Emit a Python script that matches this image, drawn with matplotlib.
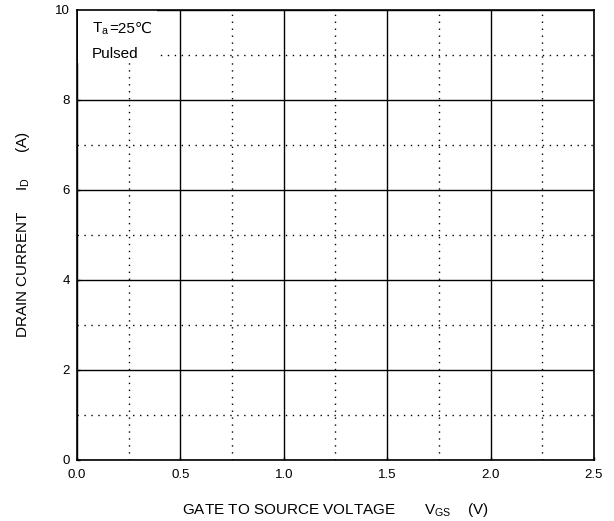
import matplotlib
matplotlib.use("Agg")
import matplotlib.pyplot as plt
import matplotlib.patches as patches

plt.rcParams['font.family'] = ['Liberation Sans', 'DejaVu Sans']
plt.rcParams['mathtext.fontset'] = 'custom'
plt.rcParams['mathtext.rm'] = 'Liberation Sans'

# axis setup (chart is an empty grid)
x_ticks = [0.0, 0.5, 1.0, 1.5, 2.0, 2.5]
x_minor = [0.25, 0.75, 1.25, 1.75, 2.25]
y_ticks = [0, 2, 4, 6, 8, 10]
y_minor = [1, 3, 5, 7, 9]
x_label = r"GATE TO SOURCE VOLTAGE       $\mathregular{V_{GS}}$    (V)"
y_label = r"DRAIN CURRENT     $\mathregular{I_D}$      (A)"
note_sym = r"$\mathregular{T_a}$"
note_val = "=25℃"
note_mode = "Pulsed"

fig = plt.figure(figsize=(6.14, 5.21), dpi=100)
ax = fig.add_axes([0.1254, 0.118, 0.842, 0.863])

ax.set_xlim(x_ticks[0], x_ticks[-1])
ax.set_ylim(y_ticks[0], y_ticks[-1])
ax.set_xticks(x_ticks)
ax.set_xticklabels([f"{v:.1f}" for v in x_ticks])
ax.set_yticks(y_ticks)
ax.set_xticks(x_minor, minor=True)
ax.set_yticks(y_minor, minor=True)

ax.grid(which='major', color='black', linewidth=1.0, linestyle='-')
ax.grid(which='minor', color='black', linewidth=1.0, linestyle=(0, (1, 4)))
ax.set_axisbelow(True)

for s in ax.spines.values():
    s.set_linewidth(1.2)
    s.set_zorder(5)
ax.tick_params(which='both', direction='in', length=2, width=1, labelsize=9.5)
ax.tick_params(axis='x', pad=7)
ax.tick_params(axis='y', pad=5)
ax.tick_params(which='minor', length=0)

# white box behind the condition note
ax.add_patch(patches.Rectangle((0.005, 8.82), 0.382, 1.17, facecolor='white',
                               edgecolor='none', zorder=1))
t1 = ax.text(0.073, 9.49, note_sym, fontsize=11, va='baseline', ha='left', zorder=3)
ax.annotate(note_val, xy=(1, 9.49), xycoords=(t1, 'data'), va='baseline',
            ha='left', fontsize=11, zorder=3)
ax.text(0.073, 8.93, note_mode, fontsize=11, va='baseline', ha='left', zorder=3)

ax.set_xlabel(x_label, fontsize=11, labelpad=14)
ax.set_ylabel(y_label, fontsize=11, labelpad=17)

fig.savefig("out.png", dpi=100)
